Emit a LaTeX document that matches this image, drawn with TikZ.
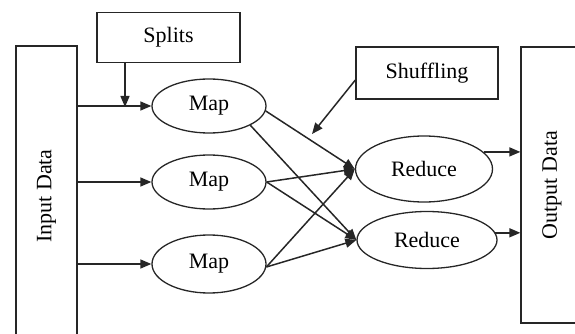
\documentclass[tikz,border=0pt]{standalone}
\usepackage{fontspec}
\setmainfont{Liberation Serif}
\usetikzlibrary{shapes,arrows.meta}

\begin{document}
\begin{tikzpicture}[x=1pt, y=-1pt, ->, >={Triangle[length=11pt,width=9pt]}, line width=1.3pt, draw=black!85, node distance=78pt, inner sep=0pt, font=\fontsize{22}{26}\selectfont, every edge/.style={draw, line width=1.5pt}]
\useasboundingbox (0,0) rectangle (575,334);
\clip (0,0) rectangle (575,334);
\tikzstyle{box}=[draw, rectangle, -]
\tikzstyle{op}=[draw, ellipse, -, minimum width=114pt, minimum height=54pt]

\node[box, minimum width=61pt, minimum height=300pt] (in) at (46.5,196) {\rotatebox{90}{Input Data}};
\node[box, minimum width=62pt, minimum height=276pt] (out) at (552,185) {\rotatebox{90}{Output Data}};
\node[box, minimum width=143pt, minimum height=50pt] (splits) at (168.5,37.5) {Splits};
\node[box, minimum width=142pt, minimum height=52pt] (shuffle) at (427,73) {Shuffling};

\node[op] (m1) at (209,106) {Map};
\node[op] (m2) [below of=m1, node distance=76pt] {Map};
\node[op, minimum height=58pt] (m3) [below of=m2, node distance=82pt] {Map};
\node[op, minimum width=137pt, minimum height=66pt] (r1) at (424,169) {Reduce};
\node[op, minimum width=140pt, minimum height=57pt] (r2) at (427,240) {Reduce};

\coordinate (sp) at (125,107);
\coordinate (sh) at (312,134);

\path
(in.east |- m1) edge (m1)
(in.east |- m2) edge (m2)
(in.east |- m3) edge (m3)

(splits.south -| sp) edge (sp)
([yshift=-7pt]shuffle.west) edge (sh)

(m1.-5) edge (r1.west)
(m1.-25) edge (r2.west)
(m2.east) edge (r1.west)
(m2.east) edge (r2.west)
(m3.-3) edge (r1.west)
(m3.-3) edge (r2.west)

(r1.16) edge (r1.16 -| out.west)
(r2.6) edge (r2.6 -| out.west);
\end{tikzpicture}
\end{document}
